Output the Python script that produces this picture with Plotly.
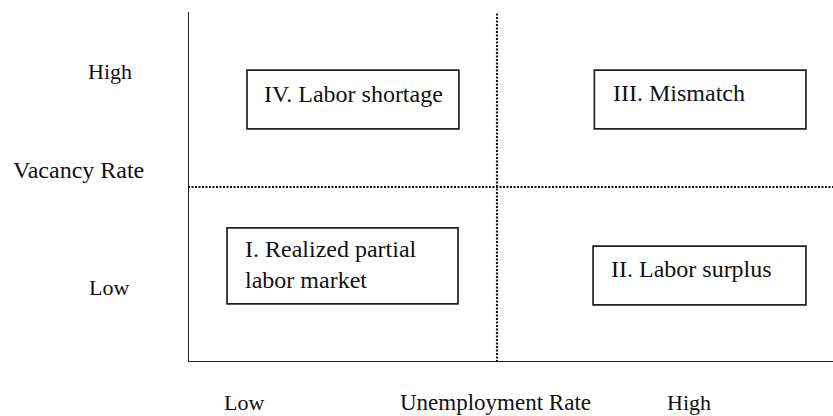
import plotly.graph_objects as go

# Conceptual diagram: quadrants of the labour market (0..1 scales on both axes)
x_divider = 0.479   # unemployment-rate split
y_divider = 0.5     # vacancy-rate split

quad_labels = ["IV. Labor shortage", "III. Mismatch", "I. Realized partial<br>labor market", "II. Labor surplus"]
box_x0 = [0.0915, 0.630, 0.0605, 0.628]
box_x1 = [0.420, 0.958, 0.4186, 0.958]
box_y0 = [0.666, 0.666, 0.166, 0.163]
box_y1 = [0.834, 0.834, 0.383, 0.331]
text_x = [0.1147, 0.656, 0.0853, 0.6527]
text_y = [0.767, 0.7686, 0.280, 0.2657]

y_tick_labels = ["High", "Vacancy Rate", "Low"]
y_tick_size = [22, 24, 22]
y_tick_px = [-0.121, -0.1705, -0.1225]
y_tick_py = [0.829, 0.549, 0.214]
x_tick_labels = ["Low", "Unemployment Rate", "High"]
x_tick_size = [22, 23, 22]
x_tick_px = [0.0868, 0.476, 0.777]
x_tick_py = [-0.117, -0.117, -0.117]

FONT = "Liberation Serif, Times New Roman, serif"

fig = go.Figure()
fig.add_trace(go.Scatter(x=[0, 1], y=[0, 1], mode="markers", marker=dict(opacity=0), hoverinfo="skip", showlegend=False))

shapes = []
# axes
shapes.append(dict(type="line", xref="x", yref="y", x0=0, x1=0, y0=0, y1=1, line=dict(color="#222", width=2)))
shapes.append(dict(type="line", xref="x", yref="y", x0=0, x1=1, y0=0, y1=0, line=dict(color="#222", width=2)))
# dividers
shapes.append(dict(type="line", xref="x", yref="y", x0=x_divider, x1=x_divider, y0=0, y1=1,
                   line=dict(color="#111", width=2, dash="2px,1.5px")))
shapes.append(dict(type="line", xref="x", yref="y", x0=0, x1=1, y0=y_divider, y1=y_divider,
                   line=dict(color="#111", width=2, dash="2px,1.5px")))
for a, b, c, d in zip(box_x0, box_x1, box_y0, box_y1):
    shapes.append(dict(type="rect", xref="x", yref="y", x0=a, x1=b, y0=c, y1=d,
                       line=dict(color="#222", width=1.7), fillcolor="rgba(0,0,0,0)"))

annotations = []
for t, x, y in zip(quad_labels, text_x, text_y):
    annotations.append(dict(text=t, x=x, y=y, xref="x", yref="y", xanchor="left", yanchor="middle",
                            align="left", showarrow=False, font=dict(family=FONT, size=24, color="#111")))
for t, s, x, y in zip(y_tick_labels, y_tick_size, y_tick_px, y_tick_py):
    annotations.append(dict(text=t, x=x, y=y, xref="paper", yref="paper", xanchor="center", yanchor="middle",
                            showarrow=False, font=dict(family=FONT, size=s, color="#111")))
for t, s, x, y in zip(x_tick_labels, x_tick_size, x_tick_px, x_tick_py):
    annotations.append(dict(text=t, x=x, y=y, xref="paper", yref="paper", xanchor="center", yanchor="middle",
                            showarrow=False, font=dict(family=FONT, size=s, color="#111")))

fig.update_layout(
    width=833, height=416,
    margin=dict(l=188, r=0, t=12, b=54),
    paper_bgcolor="white", plot_bgcolor="white",
    xaxis=dict(range=[0, 1], visible=False, fixedrange=True),
    yaxis=dict(range=[0, 1], visible=False, fixedrange=True),
    shapes=shapes, annotations=annotations, showlegend=False,
)
# remove the browser's default 8px body margin so the figure fills the window exactly
fig.write_html("out.html", config={"displayModeBar": False},
               post_script="document.body.style.margin='0';document.body.style.overflow='hidden';")
